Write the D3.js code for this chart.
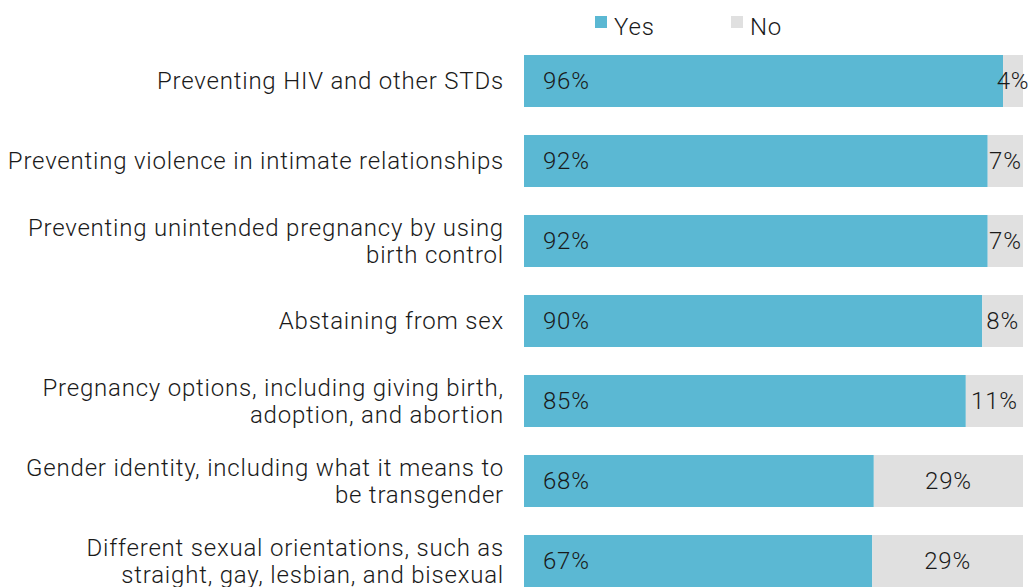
<!DOCTYPE html>
<html>
<head>
<meta charset="utf-8">
<script src="https://cdn.jsdelivr.net/npm/d3@7"></script>
<style>
  body { margin: 0; background: #fff; }
  text { font-family: Roboto, 'Liberation Sans', Arial, sans-serif; font-weight: 300; fill: #1a1a1a; letter-spacing: 0.8px; }
</style>
</head>
<body>
<div id="chart"></div>
<script>
const categories = [
  ['Preventing HIV and other STDs'],
  ['Preventing violence in intimate relationships'],
  ['Preventing unintended pregnancy by using', 'birth control'],
  ['Abstaining from sex'],
  ['Pregnancy options, including giving birth,', 'adoption, and abortion'],
  ['Gender identity, including what it means to', 'be transgender'],
  ['Different sexual orientations, such as', 'straight, gay, lesbian, and bisexual']
]
const yesValues = [96, 92, 92, 90, 85, 68, 67]
const noValues = [4, 7, 7, 8, 11, 29, 29]
const seriesNames = ['Yes', 'No']
const colors = ['#5bb8d3', '#e0e0e0']

const FONT = 24
const dimensions = {
  width: 1029,
  height: 587,
  margin: { top: 55, right: 6, bottom: 0, left: 524 }
}

const rows = categories.map((c, i) => ({
  label: c,
  yes: yesValues[i],
  no: noValues[i],
  total: yesValues[i] + noValues[i]
}))

const wrapper = d3.select('#chart').append('svg')
  .attr('width', dimensions.width)
  .attr('height', dimensions.height)

const bounds = wrapper.append('g')
  .attr('transform', `translate(${dimensions.margin.left}, ${dimensions.margin.top})`)

const xScale = d3.scaleLinear()
  .domain([0, 1])
  .range([0, dimensions.width - dimensions.margin.left - dimensions.margin.right])

// step 80, bar 52
const yScale = d3.scaleBand()
  .domain(d3.range(rows.length))
  .range([0, 80 * rows.length - 28])
  .paddingInner(28 / 80)
  .paddingOuter(0)

const rowG = bounds.selectAll('g.row')
  .data(rows)
  .join('g')
  .attr('class', 'row')
  .attr('transform', (d, i) => `translate(0, ${yScale(i)})`)

const bh = yScale.bandwidth()

// yes
rowG.append('rect')
  .attr('x', 0)
  .attr('width', d => xScale(d.yes / d.total))
  .attr('height', bh)
  .style('fill', colors[0])

// no
rowG.append('rect')
  .attr('x', d => xScale(d.yes / d.total))
  .attr('width', d => xScale(1) - xScale(d.yes / d.total))
  .attr('height', bh)
  .style('fill', colors[1])

rowG.append('text')
  .attr('x', 19)
  .attr('y', bh / 2)
  .attr('dy', '0.35em')
  .style('font-size', FONT + 'px')
  .text(d => d.yes + '%')

rowG.append('text')
  .attr('x', d => (xScale(d.yes / d.total) + xScale(1)) / 2)
  .attr('y', bh / 2)
  .attr('dy', '0.35em')
  .attr('text-anchor', 'middle')
  .style('font-size', FONT + 'px')
  .text(d => d.no + '%')

// category labels
const lab = rowG.append('text')
  .attr('x', -21)
  .attr('text-anchor', 'end')
  .style('font-size', FONT + 'px')

lab.selectAll('tspan')
  .data(d => d.label.map((t, j) => ({ t, j, n: d.label.length })))
  .join('tspan')
  .attr('x', -20)
  .attr('y', d => bh / 2 + (d.j - (d.n - 1) / 2) * 27)
  .attr('dy', '0.35em')
  .text(d => d.t)

// legend
const legend = wrapper.append('g')
  .attr('transform', 'translate(595, 16)')

const lg = legend.selectAll('g')
  .data(seriesNames)
  .join('g')
  .attr('transform', (d, i) => `translate(${i * 136}, 0)`)

lg.append('rect')
  .attr('width', 12)
  .attr('height', 12)
  .style('fill', (d, i) => colors[i])

lg.append('text')
  .attr('x', 19)
  .attr('y', 19)
  .style('font-size', FONT + 'px')
  .text(d => d)
</script>
</body>
</html>
